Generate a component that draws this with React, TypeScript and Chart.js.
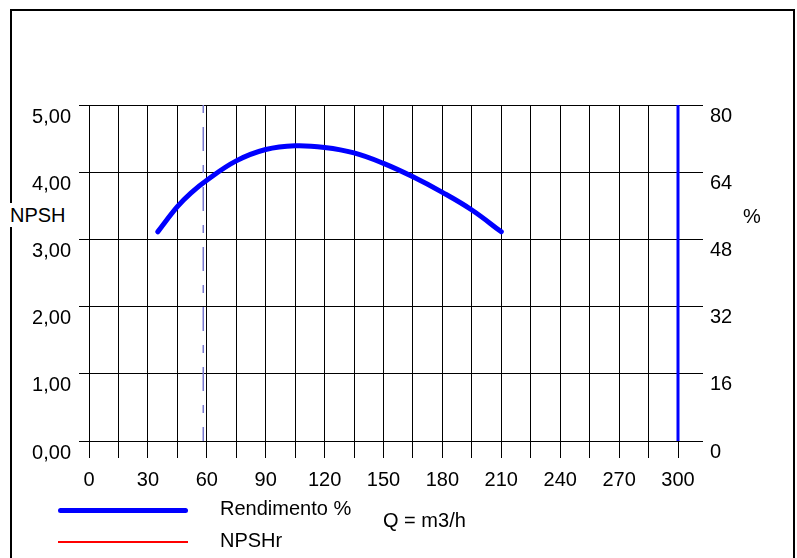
import React, { useEffect, useRef } from 'react';
import { Chart, registerables } from 'chart.js';

Chart.register(...registerables);

// Flow (m3/h) and efficiency (%) of the pump curve
const flowQ = [35, 45, 52, 60, 75, 90, 105, 120, 135, 150, 165, 180, 195, 210];
const efficiency = [49.8, 55.8, 59.1, 62.1, 66.7, 69.4, 70.3, 69.9, 68.6, 66.1, 62.9, 59.2, 55, 49.8];

// Duty point marker (dashed) and max flow marker (solid blue)
const dutyFlow = [58.2, 58.2];
const dutyNpsh = [5, 0];
const maxFlow = [300, 300];
const maxNpsh = [0, 5];

// Axis tick labels
const npshTickLabels = ['0,00', '1,00', '2,00', '3,00', '4,00', '5,00'];
const pctTickLabels = ['0', '16', '32', '48', '64', '80'];
const qTickLabels = ['0', '30', '60', '90', '120', '150', '180', '210', '240', '270', '300'];

const FONT = 'Liberation Sans, Arial, sans-serif';

export default function App() {
  const ref = useRef<HTMLCanvasElement>(null);

  useEffect(() => {
    const font = { family: FONT, size: 20 };
    const chart = new Chart(ref.current as HTMLCanvasElement, {
      type: 'line',
      data: {
        datasets: [
          {
            label: 'duty',
            data: dutyFlow.map((q, i) => ({ x: q, y: dutyNpsh[i] })),
            yAxisID: 'y',
            borderColor: '#7878d0',
            borderWidth: 1.5,
            borderDash: [24, 14, 8, 14],
            borderDashOffset: 38,
            pointRadius: 0,
          },
          {
            label: 'Rendimento %',
            data: flowQ.map((q, i) => ({ x: q, y: efficiency[i] })),
            yAxisID: 'y1',
            borderColor: '#0000ff',
            borderWidth: 5,
            pointRadius: 0,
            tension: 0.4,
            borderCapStyle: 'round',
            borderJoinStyle: 'round',
          },
          {
            label: 'max',
            data: maxFlow.map((q, i) => ({ x: q, y: maxNpsh[i] })),
            yAxisID: 'y',
            borderColor: '#0000ff',
            borderWidth: 3,
            pointRadius: 0,
            clip: false,
          },
        ],
      },
      options: {
        responsive: false,
        animation: false,
        layout: { padding: { top: 105, left: 0, right: 0, bottom: 0 } },
        plugins: { legend: { display: false }, tooltip: { enabled: false } },
        scales: {
          x: {
            type: 'linear',
            position: 'bottom',
            min: 0,
            max: 300,
            ticks: {
              stepSize: 15,
              autoSkip: false,
              maxRotation: 0,
              color: '#000',
              font,
              padding: 10,
              callback: (v: any) => {
                const n = Number(v);
                return n % 30 === 0 ? qTickLabels[n / 30] : '';
              },
            },
            grid: { color: '#000', lineWidth: 1, tickLength: 17 },
            border: { color: '#000' },
            afterFit: (s: any) => { s.height = 117; },
          },
          y: {
            type: 'linear',
            position: 'left',
            min: 0,
            max: 5,
            ticks: {
              stepSize: 1,
              color: '#000',
              font,
              padding: 8,
              labelOffset: 12,
              callback: (v: any) => npshTickLabels[Math.round(Number(v))],
            },
            grid: { color: '#000', lineWidth: 1, tickLength: 10 },
            border: { color: '#000' },
            afterFit: (s: any) => { s.width = 89; },
          },
          y1: {
            type: 'linear',
            position: 'right',
            min: 0,
            max: 80,
            ticks: {
              stepSize: 16,
              color: '#000',
              font,
              padding: 7,
              labelOffset: 11,
              callback: (v: any) => pctTickLabels[Math.round(Number(v) / 16)],
            },
            grid: { color: '#000', lineWidth: 1, tickLength: 25, drawOnChartArea: false },
            border: { display: false },
            afterFit: (s: any) => { s.width = 119; },
          },
        },
      } as any,
    });
    return () => chart.destroy();
  }, []);

  const text: React.CSSProperties = {
    position: 'absolute',
    fontFamily: FONT,
    fontSize: 20,
    lineHeight: '20px',
    color: '#000',
    whiteSpace: 'nowrap',
  };

  return (
    <div style={{ position: 'fixed', left: 0, top: 0, width: 797, height: 558, background: '#fff', overflow: 'hidden' }}>
      <div style={{ position: 'absolute', left: 10, top: 9, width: 785, height: 620, border: '2px solid #000', boxSizing: 'border-box' }} />
      <canvas ref={ref} width={797} height={558} style={{ position: 'absolute', left: 0, top: 0, width: 797, height: 558 }} />
      <span style={{ ...text, left: 10, top: 205, background: '#fff', paddingTop: 2, paddingBottom: 2, marginTop: -2 }}>NPSH</span>
      <span style={{ ...text, left: 743, top: 206 }}>%</span>
      <div style={{ position: 'absolute', left: 58, top: 508, width: 130, height: 5, background: '#0000ff', borderRadius: 3 }} />
      <div style={{ position: 'absolute', left: 58, top: 541, width: 130, height: 2, background: '#ff0000' }} />
      <span style={{ ...text, left: 220, top: 498 }}>Rendimento %</span>
      <span style={{ ...text, left: 220, top: 530 }}>NPSHr</span>
      <span style={{ ...text, left: 383, top: 510 }}>Q = m3/h</span>
    </div>
  );
}
